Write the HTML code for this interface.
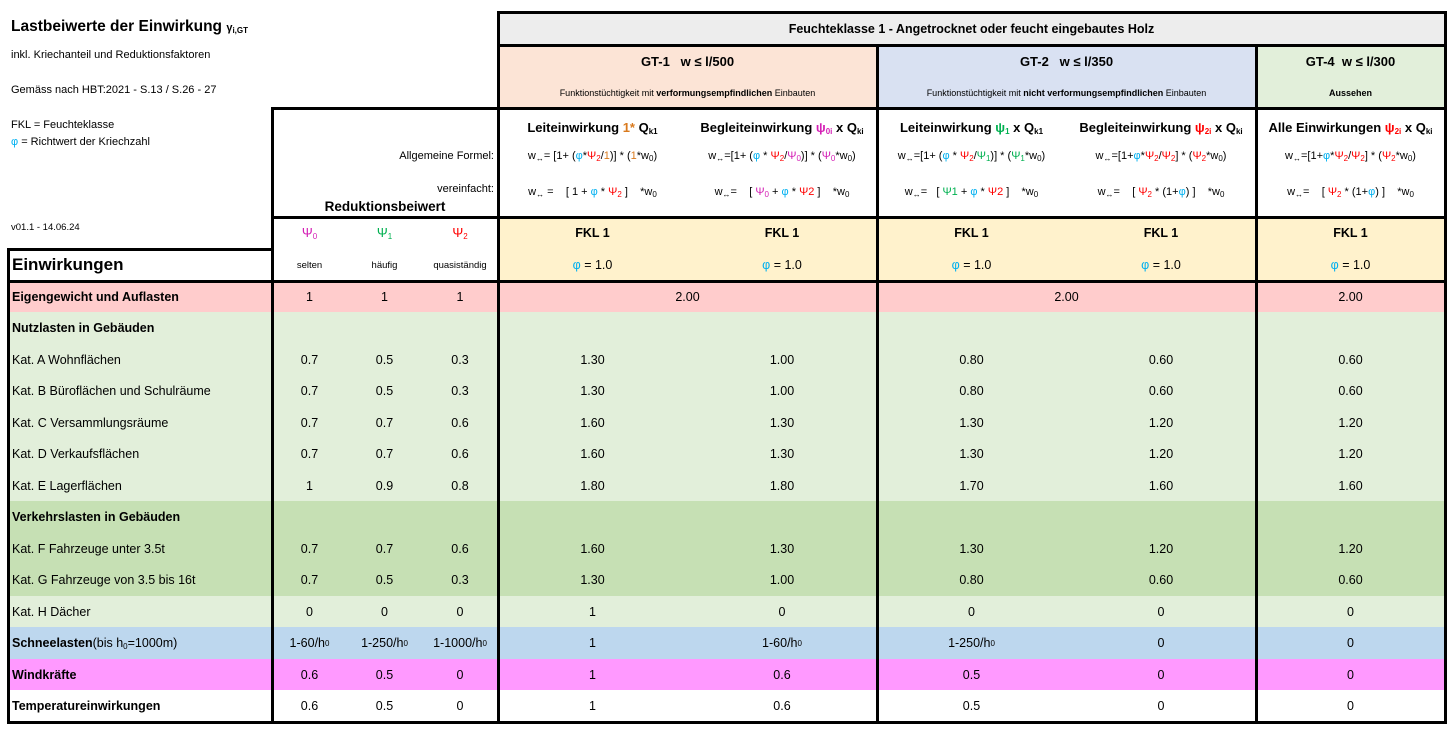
<!DOCTYPE html>
<html><head><meta charset="utf-8">
<style>
body{margin:0;width:1455px;height:735px;background:#fff;position:relative;overflow:hidden;font-family:"Liberation Sans",sans-serif;color:#000}
.c{position:absolute;box-sizing:border-box;border-right:1px solid #000;border-bottom:1px solid #000;display:flex;align-items:center;justify-content:center;font-size:12.5px;white-space:nowrap}
.l{justify-content:flex-start;padding-left:4px}
.b{font-weight:bold}
.t{position:absolute;white-space:nowrap}
.tk{position:absolute;background:#000}
.p0{color:#d41fb5}.p1{color:#00b050}.p2{color:#ff0000}.ph{color:#00b0f0}.or{color:#d97a1e}
sub{font-size:8px;vertical-align:-2px}
.hd{position:absolute;box-sizing:border-box;text-align:center;font-size:11px;white-space:nowrap}
</style></head><body>
<div class="t b" style="left:11px;top:18px;font-size:15.5px">Lastbeiwerte der Einwirkung <span style="font-size:11px">γ<sub>i,GT</sub></span></div>
<div class="t" style="left:11px;top:49px;font-size:11px">inkl. Kriechanteil und Reduktionsfaktoren</div>
<div class="t" style="left:11px;top:84px;font-size:11px">Gemäss nach HBT:2021 - S.13 / S.26 - 27</div>
<div class="t" style="left:11px;top:119px;font-size:11px">FKL = Feuchteklasse</div>
<div class="t" style="left:11px;top:136px;font-size:11px"><span class="ph">φ</span> = Richtwert der Kriechzahl</div>
<div class="t" style="left:11px;top:222px;font-size:9.5px">v01.1 - 14.06.24</div>

<div id="root"></div>
<script>
const colX=[8,272,347,422,498,687,877,1066,1256,1445];
const rowY=[281,312,344,375,407,438,470,501,533,564,596,627,659,690,722];
const labels=["Eigengewicht und Auflasten","Nutzlasten in Gebäuden","Kat. A Wohnflächen","Kat. B Büroflächen und Schulräume","Kat. C Versammlungsräume","Kat. D Verkaufsflächen","Kat. E Lagerflächen","Verkehrslasten in Gebäuden","Kat. F Fahrzeuge unter 3.5t","Kat. G Fahrzeuge von 3.5 bis 16t","Kat. H Dächer","Schneelasten","Windkräfte","Temperatureinwirkungen"];
const boldRows=[1,1,0,0,0,0,0,1,0,0,0,1,1,1];
const rowBg=["#ffcccc","#e2efda","#e2efda","#e2efda","#e2efda","#e2efda","#e2efda","#c6e0b4","#c6e0b4","#c6e0b4","#e2efda","#bdd7ee","#ff99ff","#ffffff"];
const psi0=["1","","0.7","0.7","0.7","0.7","1","","0.7","0.7","0","1-60/h<sub>0</sub>","0.6","0.6"];
const psi1=["1","","0.5","0.5","0.7","0.7","0.9","","0.7","0.5","0","1-250/h<sub>0</sub>","0.5","0.5"];
const psi2=["1","","0.3","0.3","0.6","0.6","0.8","","0.6","0.3","0","1-1000/h<sub>0</sub>","0","0"];
const gt1Leit=["2.00","","1.30","1.30","1.60","1.60","1.80","","1.60","1.30","1","1","1","1"];
const gt1Begl=["","","1.00","1.00","1.30","1.30","1.80","","1.30","1.00","0","1-60/h<sub>0</sub>","0.6","0.6"];
const gt2Leit=["2.00","","0.80","0.80","1.30","1.30","1.70","","1.30","0.80","0","1-250/h<sub>0</sub>","0.5","0.5"];
const gt2Begl=["","","0.60","0.60","1.20","1.20","1.60","","1.20","0.60","0","0","0","0"];
const gt4All=["2.00","","0.60","0.60","1.20","1.20","1.60","","1.20","0.60","0","0","0","0"];
const root=document.getElementById('root');
function cell(x1,x2,y1,y2,bg,html,cls){
  const d=document.createElement('div');
  d.className='c '+(cls||'');
  d.style.left=x1+'px';d.style.top=y1+'px';d.style.width=(x2-x1+1)+'px';d.style.height=(y2-y1+1)+'px';
  d.style.background=bg;d.innerHTML=html;
  root.appendChild(d);return d;
}
for(let i=0;i<labels.length;i++){
  const y1=rowY[i],y2=rowY[i+1],bg=rowBg[i];
  let lab=labels[i];
  if(i===11)lab='Schneelasten <span style="font-weight:normal">(bis h<sub>0</sub>=1000m)</span>';
  const lc=cell(colX[0],colX[1],y1,y2,bg,lab,'l'+(boldRows[i]?' b':''));
  
  
  if(i===1||i===7){
    const m=cell(colX[1],colX[4],y1,y2,bg,'');
    
    
  }else{
    const vals=[psi0[i],psi1[i],psi2[i]];
    for(let k=0;k<3;k++){
      const p=cell(colX[1+k],colX[2+k],y1,y2,bg,vals[k]);
      
      
    }
  }
  if(i===0){
    const a=cell(colX[4],colX[6],y1,y2,bg,gt1Leit[i]);
    
    
    const b=cell(colX[6],colX[8],y1,y2,bg,gt2Leit[i]);
    
    
    const g=cell(colX[8],colX[9],y1,y2,bg,gt4All[i]);
    
    
  }else{
    const vals=[gt1Leit[i],gt1Begl[i],gt2Leit[i],gt2Begl[i],gt4All[i]];
    for(let k=0;k<5;k++){
      const v=cell(colX[4+k],colX[5+k],y1,y2,bg,vals[k]);
      
      
    }
  }
}
// header cells
function hc(x1,x2,y1,y2,bg,html,cls,name){const d=cell(x1,x2,y1,y2,bg,html,cls);return d;}
hc(498,1445,12,45,'#ededed','Feuchteklasse 1 - Angetrocknet oder feucht eingebautes Holz','b','feuchteklasse-header');
const g1=hc(498,877,45,108,'#fce4d6','','','gt1-header');
g1.innerHTML='<div style="position:absolute;top:9px;width:100%;text-align:center;font-weight:bold;font-size:13px">GT-1&nbsp;&nbsp; w ≤ l/500</div><div style="position:absolute;top:43px;width:100%;text-align:center;font-size:9px">Funktionstüchtigkeit mit <b>verformungsempfindlichen</b> Einbauten</div>';
const g2=hc(877,1256,45,108,'#d9e1f2','','','gt2-header');
g2.innerHTML='<div style="position:absolute;top:9px;width:100%;text-align:center;font-weight:bold;font-size:13px">GT-2&nbsp;&nbsp; w ≤ l/350</div><div style="position:absolute;top:43px;width:100%;text-align:center;font-size:9px">Funktionstüchtigkeit mit <b>nicht verformungsempfindlichen</b> Einbauten</div>';
const g4=hc(1256,1445,45,108,'#e2efda','','','gt4-header');
g4.innerHTML='<div style="position:absolute;top:9px;width:100%;text-align:center;font-weight:bold;font-size:13px">GT-4&nbsp; w ≤ l/300</div><div style="position:absolute;top:43px;width:100%;text-align:center;font-size:9px;font-weight:bold">Aussehen</div>';
const fl=hc(272,498,108,217,'#fff','','','formula-label-cell');
fl.innerHTML='<div style="position:absolute;right:4px;top:42px;font-size:11px">Allgemeine Formel:</div><div style="position:absolute;right:4px;top:75px;font-size:11px">vereinfacht:</div><div style="position:absolute;left:0;width:100%;text-align:center;top:91px;font-size:13.5px;font-weight:bold">Reduktionsbeiwert</div>';
const titles=['Leiteinwirkung <span class="or">1*</span> Q<sub>k1</sub>','Begleiteinwirkung <span class="p0">ψ<sub>0i</sub></span> x Q<sub>ki</sub>','Leiteinwirkung <span class="p1">ψ<sub>1</sub></span> x Q<sub>k1</sub>','Begleiteinwirkung <span class="p2">ψ<sub>2i</sub></span> x Q<sub>ki</sub>','Alle Einwirkungen <span class="p2">ψ<sub>2i</sub></span> x Q<sub>ki</sub>'];
const f1=['w<sub>↔</sub>= [1+ (<span class="ph">φ</span>*<span class="p2">Ψ<sub>2</sub></span>/<span class="or">1</span>)] * (<span class="or">1</span>*w<sub>0</sub>)','w<sub>↔</sub>=[1+ (<span class="ph">φ</span> * <span class="p2">Ψ<sub>2</sub></span>/<span class="p0">Ψ<sub>0</sub></span>)] * (<span class="p0">Ψ<sub>0</sub></span>*w<sub>0</sub>)','w<sub>↔</sub>=[1+ (<span class="ph">φ</span> * <span class="p2">Ψ<sub>2</sub></span>/<span class="p1">Ψ<sub>1</sub></span>)] * (<span class="p1">Ψ<sub>1</sub></span>*w<sub>0</sub>)','w<sub>↔</sub>=[1+<span class="ph">φ</span>*<span class="p2">Ψ<sub>2</sub></span>/<span class="p2">Ψ<sub>2</sub></span>] * (<span class="p2">Ψ<sub>2</sub></span>*w<sub>0</sub>)','w<sub>↔</sub>=[1+<span class="ph">φ</span>*<span class="p2">Ψ<sub>2</sub></span>/<span class="p2">Ψ<sub>2</sub></span>] * (<span class="p2">Ψ<sub>2</sub></span>*w<sub>0</sub>)'];
const f2=['w<sub>↔</sub> = &nbsp;&nbsp; [ 1 + <span class="ph">φ</span> * <span class="p2">Ψ<sub>2</sub></span> ] &nbsp;&nbsp; *w<sub>0</sub>','w<sub>↔</sub>= &nbsp;&nbsp; [ <span class="p0">Ψ<sub>0</sub></span> + <span class="ph">φ</span> * <span class="p2">Ψ2</span> ] &nbsp;&nbsp; *w<sub>0</sub>','w<sub>↔</sub>= &nbsp; [ <span class="p1">Ψ1</span> + <span class="ph">φ</span> * <span class="p2">Ψ2</span> ] &nbsp;&nbsp; *w<sub>0</sub>','w<sub>↔</sub>= &nbsp;&nbsp; [ <span class="p2">Ψ<sub>2</sub></span> * (1+<span class="ph">φ</span>) ] &nbsp;&nbsp; *w<sub>0</sub>','w<sub>↔</sub>= &nbsp;&nbsp; [ <span class="p2">Ψ<sub>2</sub></span> * (1+<span class="ph">φ</span>) ] &nbsp;&nbsp; *w<sub>0</sub>'];
for(let k=0;k<5;k++){
  const d=hc(colX[4+k],colX[5+k],108,217,'#fff','','','formula-cell');
  d.innerHTML='<div style="position:absolute;top:12px;width:100%;text-align:center;font-size:13px;font-weight:bold">'+titles[k]+'</div><div style="position:absolute;top:42px;width:100%;text-align:center;font-size:11px">'+f1[k]+'</div><div style="position:absolute;top:78px;width:100%;text-align:center;font-size:11px">'+f2[k]+'</div>';
  const a=hc(colX[4+k],colX[5+k],217,249,'#fff2cc','FKL 1','b','fkl-cell');
  const b=hc(colX[4+k],colX[5+k],249,281,'#fff2cc','<span class="ph">φ</span>&nbsp;= 1.0','','phi-cell');
}
const ps=['<span class="p0" style="font-size:13px">Ψ<sub>0</sub></span>','<span class="p1" style="font-size:13px">Ψ<sub>1</sub></span>','<span class="p2" style="font-size:13px">Ψ<sub>2</sub></span>'];
const pl=['selten','häufig','quasiständig'];
for(let k=0;k<3;k++){
  hc(colX[1+k],colX[2+k],217,249,'#fff',ps[k],'','psi-header');
  hc(colX[1+k],colX[2+k],249,281,'#fff','<span style="font-size:9.5px">'+pl[k]+'</span>','','psi-label');
}
const ew=hc(8,272,249,281,'#fff','Einwirkungen','l b','einwirkungen-header');
ew.style.fontSize='17px';
// thick lines
function th(x,y,w,h){const d=document.createElement('div');d.className='tk';d.style.left=x+'px';d.style.top=y+'px';d.style.width=w+'px';d.style.height=h+'px';


root.appendChild(d);}
th(497,11,950,3);th(497,44,950,3);th(271,107,1176,3);th(271,216,1176,3);th(7,248,266,3);th(7,280,1440,3);th(7,721,1440,3);
th(7,248,3,476);th(271,107,3,617);th(497,11,3,713);th(876,44,3,680);th(1255,44,3,680);th(1444,11,3,713);
</script>
</body></html>
